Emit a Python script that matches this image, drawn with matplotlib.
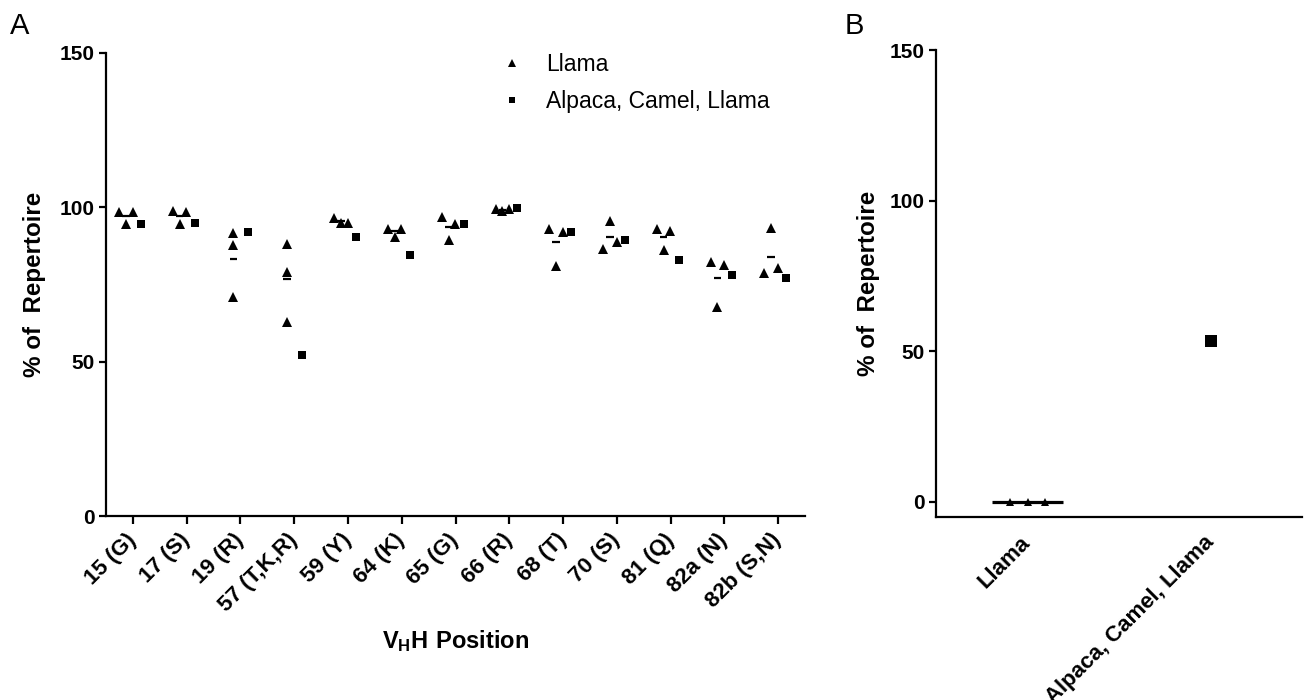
import numpy as np
import matplotlib.pyplot as plt
from matplotlib.lines import Line2D

plt.rcParams['font.family'] = ['Liberation Sans', 'DejaVu Sans']
plt.rcParams['mathtext.fontset'] = 'custom'
plt.rcParams['mathtext.rm'] = 'Liberation Sans'
plt.rcParams['mathtext.bf'] = 'Liberation Sans:bold'

# ---- data ----
positions = ['15 (G)', '17 (S)', '19 (R)', '57 (T,K,R)', '59 (Y)', '64 (K)', '65 (G)',
             '66 (R)', '68 (T)', '70 (S)', '81 (Q)', '82a (N)', '82b (S,N)']
llama_vals = [
    [98.6, 94.5, 98.6],
    [98.8, 98.5, 94.6],
    [91.6, 87.7, 70.9],
    [88.0, 79.0, 63.0],
    [96.6, 95.0, 95.0],
    [93.1, 90.4, 93.1],
    [96.9, 94.7, 89.3],
    [99.6, 98.8, 99.3],
    [92.9, 92.1, 80.9],
    [95.6, 86.6, 88.9],
    [93.1, 92.3, 86.1],
    [82.2, 81.2, 67.8],
    [93.2, 78.6, 80.4],
]
acl_vals = [94.7, 95.0, 91.9, 52.2, 90.4, 84.5, 94.7, 99.8, 92.0, 89.4, 82.9, 78.1, 77.2]

groups_b = ['Llama', 'Alpaca, Camel, Llama']
llama_b = [0, 0, 0]
acl_b = [53.5]


def spread(vals, thresh, width):
    # spread points sideways when they sit too close in y (GraphPad-like scatter),
    # keeping replicate order inside each cluster
    vals = np.asarray(vals, dtype=float)
    order = np.argsort(vals, kind='stable')
    offs = np.zeros(len(vals))
    clusters = [[order[0]]]
    for i in order[1:]:
        if vals[i] - vals[clusters[-1][-1]] < thresh:
            clusters[-1].append(i)
        else:
            clusters.append([i])
    for c in clusters:
        n = len(c)
        if n == 1:
            continue
        step = width / (n - 1)
        for k, i in enumerate(sorted(c)):
            offs[i] = (k - (n - 1) / 2) * step
    return offs


def style_axes(ax):
    for s in ['top', 'right']:
        ax.spines[s].set_visible(False)
    for s in ['left', 'bottom']:
        ax.spines[s].set_linewidth(1.6)
    ax.tick_params(axis='y', direction='out', length=5, width=1.6, labelsize=15, pad=3)
    for lab in ax.get_yticklabels():
        lab.set_fontweight('bold')


fig = plt.figure(figsize=(13.06, 7), dpi=100)

# ---- panel A ----
axA = fig.add_axes([106 / 1306, 1 - 516 / 700, 699 / 1306, 463 / 700])
x = np.arange(len(positions))
for i, vals in enumerate(llama_vals):
    cx = x[i] - 0.13
    offs = spread(vals, 3.0, 0.25)
    axA.plot(cx + offs, vals, ls='none', marker='^', ms=6.5, color='k', mew=0, clip_on=False)
    axA.hlines(np.mean(vals), cx - 0.07, cx + 0.07, color='k', lw=1.6)
axA.plot(x + 0.15, acl_vals, ls='none', marker='s', ms=6, color='k', mew=0, clip_on=False)

axA.set_xlim(-0.5, 12.5)
axA.set_ylim(0, 150)
axA.set_yticks([0, 50, 100, 150])
axA.set_xticks(x)
axA.set_xticklabels(positions, rotation=45, ha='right', va='center',
                    rotation_mode='anchor', fontweight='bold', fontsize=16)
axA.tick_params(axis='x', direction='out', length=6, width=1.6, pad=9)
style_axes(axA)
axA.set_ylabel('% of  Repertoire', fontweight='bold', fontsize=17.4)
axA.yaxis.set_label_coords((46 - 106) / 699, 0.5)
axA.set_xlabel(r'$\mathbf{V_{H}H\ Position}$', fontsize=17)
axA.xaxis.set_label_coords(0.5, (516 - 628) / 463)

leg_handles = [Line2D([], [], ls='none', marker='^', ms=5.5, color='k', mew=0),
               Line2D([], [], ls='none', marker='s', ms=5, color='k', mew=0)]
axA.legend(leg_handles, ['Llama', 'Alpaca, Camel, Llama'], loc='upper left',
           bbox_to_anchor=(500.5 / 1306, 1 - 53 / 700), bbox_transform=fig.transFigure,
           frameon=False, fontsize=16.5, handlelength=1.0, handletextpad=0.99,
           labelspacing=0.6, borderpad=0, borderaxespad=0)

# ---- panel B ----
axB = fig.add_axes([936 / 1306, 1 - 517 / 700, 366 / 1306, 467 / 700])
offs_b = spread(llama_b, 3.0, 0.19)
axB.plot(0 + offs_b, llama_b, ls='none', marker='^', ms=6, color='k', mew=0, clip_on=False)
axB.hlines(np.mean(llama_b), -0.195, 0.195, color='k', lw=2.3)
axB.plot([1], acl_b, ls='none', marker='s', ms=8.5, color='k', mew=0, clip_on=False)
axB.set_xlim(-0.5, 1.5)
axB.set_ylim(-5, 150)
axB.set_yticks([0, 50, 100, 150])
axB.set_xticks([0, 1])
axB.set_xticklabels(groups_b, rotation=45, ha='right', va='center',
                    rotation_mode='anchor', fontweight='bold', fontsize=16)
axB.tick_params(axis='x', length=0, pad=16)
style_axes(axB)
axB.set_ylabel('% of  Repertoire', fontweight='bold', fontsize=17.4)
axB.yaxis.set_label_coords((880 - 936) / 366, 0.5)

fig.text(10 / 1306, 1 - 12 / 700, 'A', fontsize=21, va='top', ha='left')
fig.text(845 / 1306, 1 - 12 / 700, 'B', fontsize=21, va='top', ha='left')

fig.savefig('out.png', dpi=100)
